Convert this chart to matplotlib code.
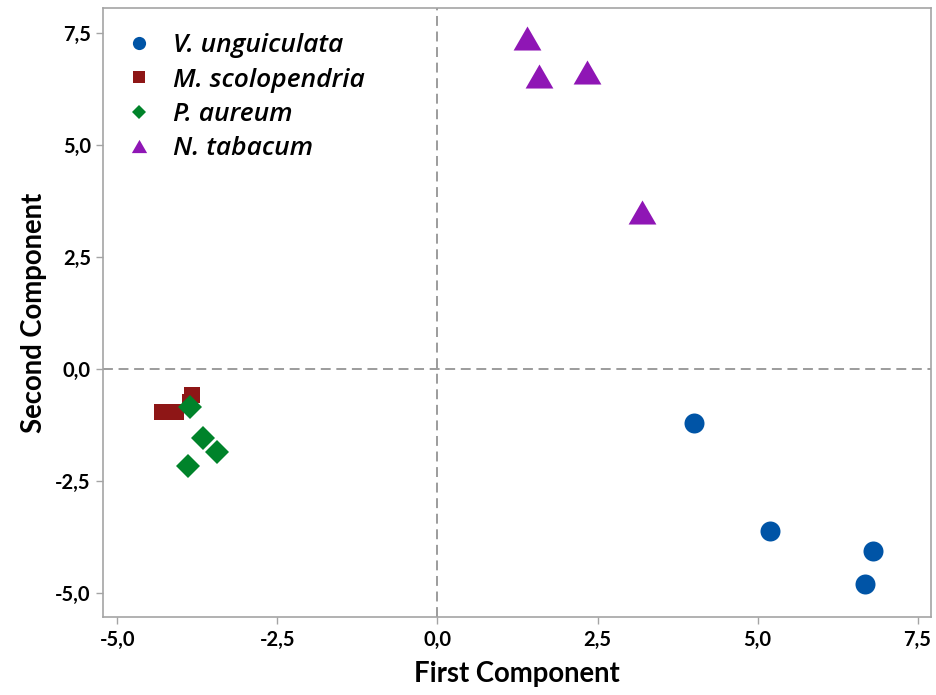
import matplotlib.pyplot as plt
from matplotlib.lines import Line2D
from matplotlib.ticker import FixedLocator, FuncFormatter

# PCA scores (first / second component) per species
species = ['V. unguiculata', 'M. scolopendria', 'P. aureum', 'N. tabacum']

vu_pc1 = [4.00, 5.20, 6.80, 6.68]
vu_pc2 = [-1.20, -3.62, -4.06, -4.80]

ms_pc1 = [-4.30, -4.08, -3.84, -3.86]
ms_pc2 = [-0.96, -0.96, -0.58, -0.73]

pa_pc1 = [-3.86, -3.66, -3.44, -3.90]
pa_pc2 = [-0.86, -1.55, -1.85, -2.16]

nt_pc1 = [1.40, 1.58, 2.34, 3.20]
nt_pc2 = [7.39, 6.54, 6.63, 3.51]

x_ticks = [-5.0, -2.5, 0.0, 2.5, 5.0, 7.5]
y_ticks = [-5.0, -2.5, 0.0, 2.5, 5.0, 7.5]

colors = ['#0054A6', '#8E1616', '#00832A', '#8F16B5']

# equilateral triangle, centred on its bounding box
tri = [(0, 0.866), (-1, -0.866), (1, -0.866), (0, 0.866)]

plt.rcParams['font.family'] = ['Lato', 'DejaVu Sans']

fig = plt.figure(figsize=(9.37, 6.95), dpi=100)
ax = fig.add_axes([0.1103, 0.1118, 0.8833, 0.8762])

ax.axhline(0, color='#9c9c9c', lw=1.4, dashes=(5.1, 2.9), zorder=1)
ax.axvline(0, color='#9c9c9c', lw=1.4, dashes=(5.1, 2.9), zorder=1)

ax.plot(vu_pc1, vu_pc2, ls='none', marker='o', ms=14.4, mew=0, color=colors[0], zorder=3)
ax.plot(ms_pc1, ms_pc2, ls='none', marker='s', ms=11.5, mew=0, color=colors[1], zorder=3)
ax.plot(pa_pc1, pa_pc2, ls='none', marker='D', ms=11.9, mew=0, color=colors[2], zorder=4)
ax.plot(nt_pc1, nt_pc2, ls='none', marker=tri, ms=20, mew=0, color=colors[3], zorder=3)

ax.set_xlim(-5.22, 7.71)
ax.set_ylim(-5.55, 8.06)

fmt = FuncFormatter(lambda v, pos: f'{v:.1f}'.replace('.', ','))
ax.xaxis.set_major_locator(FixedLocator(x_ticks))
ax.yaxis.set_major_locator(FixedLocator(y_ticks))
ax.xaxis.set_major_formatter(fmt)
ax.yaxis.set_major_formatter(fmt)

for side in ['left', 'bottom', 'right', 'top']:
    ax.spines[side].set_color('#a4a4a4')
    ax.spines[side].set_linewidth(1.2)

ax.tick_params(axis='both', direction='out', length=5, width=1, color='#a4a4a4',
               labelsize=14.5, pad=4)
for lbl in ax.get_xticklabels() + ax.get_yticklabels():
    lbl.set_fontweight('bold')

ax.set_xlabel('First Component', fontsize=19.8, fontweight='bold', labelpad=8)
ax.set_ylabel('Second Component', fontsize=19.8, fontweight='bold', labelpad=6)

handles = [
    Line2D([], [], ls='none', marker='o', ms=9.5, mew=0, color=colors[0]),
    Line2D([], [], ls='none', marker='s', ms=9, mew=0, color=colors[1]),
    Line2D([], [], ls='none', marker='D', ms=7.5, mew=0, color=colors[2]),
    Line2D([], [], ls='none', marker=tri, ms=11, mew=0, color=colors[3]),
]
ax.legend(handles, species, loc='upper left', bbox_to_anchor=(0.027, 0.959),
          frameon=False, borderpad=0, borderaxespad=0, handlelength=1.0,
          handletextpad=0.8, labelspacing=0.35,
          prop={'family': 'Open Sans', 'style': 'italic', 'weight': 'semibold', 'size': 19})

fig.savefig('out.png', dpi=100)
